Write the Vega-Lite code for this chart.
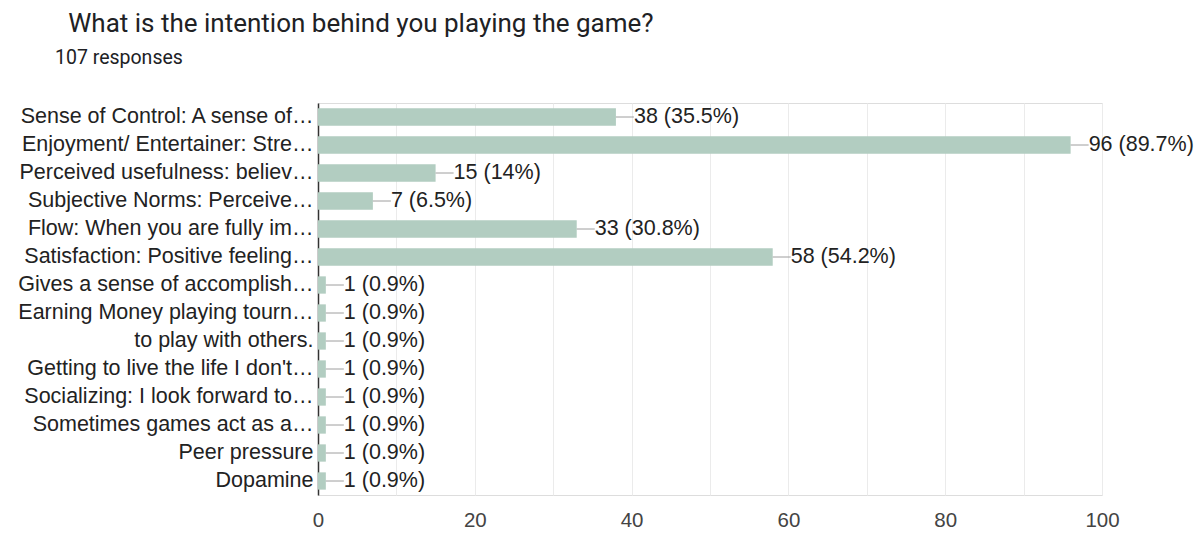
{
  "$schema": "https://vega.github.io/schema/vega-lite/v6.json",
  "width": 784,
  "height": 392,
  "autosize": {"type": "none"},
  "padding": {"left": 318, "top": 103, "right": 97, "bottom": 38},
  "background": "white",
  "title": {
    "text": "\u200b\u2002What is the intention behind you playing the game?",
    "subtitle": "107 responses",
    "anchor": "start",
    "frame": "group",
    "dx": -263,
    "offset": 36,
    "font": "Roboto",
    "fontSize": 26,
    "fontWeight": "normal",
    "color": "#202124",
    "subtitleFont": "Roboto",
    "subtitleFontSize": 19.5,
    "subtitleColor": "#202124",
    "subtitlePadding": 12
  },
  "data": {
    "values": [
      {"cat": "Sense of Control: A sense of…", "value": 38, "label": "38 (35.5%)"},
      {"cat": "Enjoyment/ Entertainer: Stre…", "value": 96, "label": "96 (89.7%)"},
      {"cat": "Perceived usefulness: believ…", "value": 15, "label": "15 (14%)"},
      {"cat": "Subjective Norms: Perceive…", "value": 7, "label": "7 (6.5%)"},
      {"cat": "Flow: When you are fully im…", "value": 33, "label": "33 (30.8%)"},
      {"cat": "Satisfaction: Positive feeling…", "value": 58, "label": "58 (54.2%)"},
      {"cat": "Gives a sense of accomplish…", "value": 1, "label": "1 (0.9%)"},
      {"cat": "Earning Money playing tourn…", "value": 1, "label": "1 (0.9%)"},
      {"cat": "to play with others.", "value": 1, "label": "1 (0.9%)"},
      {"cat": "Getting to live the life I don't…", "value": 1, "label": "1 (0.9%)"},
      {"cat": "Socializing: I look forward to…", "value": 1, "label": "1 (0.9%)"},
      {"cat": "Sometimes games act as a…", "value": 1, "label": "1 (0.9%)"},
      {"cat": "Peer pressure", "value": 1, "label": "1 (0.9%)"},
      {"cat": "Dopamine", "value": 1, "label": "1 (0.9%)"}
    ]
  },
  "encoding": {
    "y": {
      "field": "cat",
      "type": "nominal",
      "sort": null,
      "scale": {"paddingInner": 0.382, "paddingOuter": 0.191},
      "axis": {
        "title": null,
        "labelFont": "Liberation Sans",
        "labelFontSize": 21.5,
        "labelColor": "#222222",
        "labelLimit": 400,
        "labelPadding": 5,
        "ticks": false,
        "domainColor": "#333333",
        "domainWidth": 1.5,
        "grid": false
      }
    },
    "x": {
      "field": "value",
      "type": "quantitative",
      "scale": {"domain": [0, 100], "nice": false},
      "axis": {
        "title": null,
        "values": [0, 10, 20, 30, 40, 50, 60, 70, 80, 90, 100],
        "labelExpr": "datum.value % 20 === 0 ? datum.label : ''",
        "labelFont": "Liberation Sans",
        "labelFontSize": 20.5,
        "labelColor": "#444444",
        "labelPadding": 15,
        "labelFlush": false,
        "labelOverlap": false,
        "ticks": false,
        "domain": false,
        "grid": true,
        "gridColor": "#ebebeb",
        "gridWidth": 1
      }
    }
  },
  "layer": [
    {
      "mark": {"type": "rule", "y": 0, "y2": 0, "x": 0, "x2": {"expr": "width"}, "color": "#ebebeb"},
      "encoding": {},
      "data": {"values": [{}]}
    },
    {
      "mark": {"type": "bar", "color": "#b2cdc1"}
    },
    {
      "mark": {"type": "rule", "color": "#9e9e9e", "strokeWidth": 1, "x2Offset": 18},
      "encoding": {"x2": {"field": "value"}}
    },
    {
      "mark": {"type": "text", "align": "left", "baseline": "middle", "dx": 18, "font": "Liberation Sans", "fontSize": 21.5, "color": "#222222"},
      "encoding": {"text": {"field": "label"}}
    }
  ]
}
